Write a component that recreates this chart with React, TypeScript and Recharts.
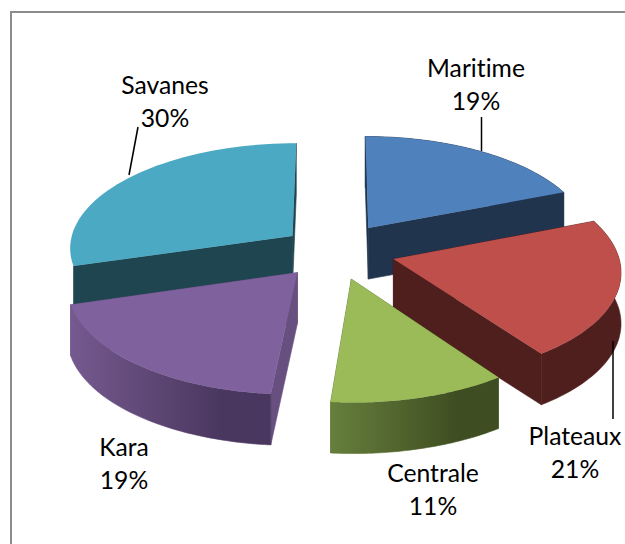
import React from "react";
import { PieChart, Pie } from "recharts";

const categories = ["Savanes", "Maritime", "Plateaux", "Centrale", "Kara"];
// shown rounded on the labels
const shares = [29.6, 19, 21.15, 11.25, 19];

const data = categories.map((name, i) => ({ name, value: shares[i] }));

// look of each slice: top face, cut face, outer wall gradient stops
const LOOK: Record<string, { top: string; cut: string; wall: string[] }> = {
  Savanes: { top: "#4BA9C3", cut: "#1F4550", wall: ["#1F4550", "#1F4550"] },
  Maritime: { top: "#4F81BD", cut: "#20344E", wall: ["#20344E", "#20344E"] },
  Plateaux: { top: "#BE4F4B", cut: "#4F1F1E", wall: ["#4F1F1E", "#4F1F1E"] },
  Centrale: { top: "#9BBB59", cut: "#5C7634", wall: ["#667F3C", "#3F4E22"] },
  Kara: { top: "#7F619D", cut: "#67507F", wall: ["#75598F", "#4A375F"] },
};

// where the text sits: centre x, first baseline, leader line if any
const LABELS: Record<string, { x: number; y: number; line?: number[] }> = {
  Savanes: { x: 165, y: 94, line: [138, 127, 129, 175] },
  Maritime: { x: 476, y: 77, line: [481.5, 117, 481.5, 151] },
  Plateaux: { x: 575, y: 445, line: [613, 341, 613, 419] },
  Centrale: { x: 433, y: 482 },
  Kara: { x: 124, y: 456 },
};

const FONT = "Lato, 'Open Sans', sans-serif";
const TILT = 0.469; // vertical squash of the pie disc
const PERSPECTIVE = 0.1;
const EXPLODE: Record<string, number> = { Savanes: 0.24, Kara: 0.26 };
const EXPLODE_DEFAULT = 0.27;
const DEPTH = 51;
const NO_WALL = ["Savanes"]; // its wall barely shows behind Kara in the picture

const rad = (d: number) => (d * Math.PI) / 180;

const Slice3D = (props: any) => {
  const { cx, cy, outerRadius, startAngle, endAngle, midAngle, name, payload } = props;
  const key = name ?? payload?.name;
  const look = LOOK[key];
  const mid = rad(midAngle ?? (startAngle + endAngle) / 2);
  const explode = EXPLODE[key] ?? EXPLODE_DEFAULT;
  const A = outerRadius;
  const B = outerRadius * TILT;

  // ground point at radius r and recharts angle deg, pushed out by the explode
  const project = (deg: number, r: number, drop = 0): [number, number] => {
    const u = r * Math.cos(rad(deg)) + explode * Math.cos(mid);
    const v = -r * Math.sin(rad(deg)) - explode * Math.sin(mid);
    const s = 1 / (1 - PERSPECTIVE * v);
    return [cx + A * u * s, cy + B * v * s + drop];
  };

  const steps = 48;
  const arc = (drop: number) => {
    const pts: [number, number][] = [];
    for (let i = 0; i <= steps; i++) {
      pts.push(project(startAngle + ((endAngle - startAngle) * i) / steps, 1, drop));
    }
    return pts;
  };
  const toPath = (pts: [number, number][]) =>
    "M" + pts.map((p) => `${p[0].toFixed(1)},${p[1].toFixed(1)}`).join("L") + "Z";

  const topArc = arc(0);
  const lowArc = arc(DEPTH);
  const xs = lowArc.map((p) => p[0]);
  const gradId = `wall-${key}`;

  const cutFace = (deg: number) =>
    toPath([project(deg, 0), project(deg, 1), project(deg, 1, DEPTH), project(deg, 0, DEPTH)]);

  return (
    <g>
      <defs>
        <linearGradient
          id={gradId}
          gradientUnits="userSpaceOnUse"
          x1={Math.min(...xs)}
          x2={Math.max(...xs)}
          y1={0}
          y2={0}
        >
          <stop offset="0%" stopColor={look.wall[0]} />
          <stop offset="75%" stopColor={look.wall[1]} />
        </linearGradient>
      </defs>
      <path d={cutFace(startAngle)} fill={look.cut} stroke={look.cut} strokeWidth={0.6} />
      <path d={cutFace(endAngle)} fill={look.cut} stroke={look.cut} strokeWidth={0.6} />
      {!NO_WALL.includes(key) && (
        <path
          d={toPath([...topArc, ...lowArc.slice().reverse()])}
          fill={`url(#${gradId})`}
          stroke={`url(#${gradId})`}
          strokeWidth={0.6}
        />
      )}
      <path d={toPath([project(0, 0), ...topArc])} fill={look.top} />
    </g>
  );
};

const renderLabel = (props: any) => {
  const key = props.name ?? props.payload?.name;
  const spot = LABELS[key];
  const textStyle = { fontVariantLigatures: "none" };
  return (
    <g key={key}>
      {spot.line && (
        <line
          x1={spot.line[0]}
          y1={spot.line[1]}
          x2={spot.line[2]}
          y2={spot.line[3]}
          stroke="#000"
          strokeWidth={1.5}
        />
      )}
      <text x={spot.x} y={spot.y} textAnchor="middle" fontFamily={FONT} fontSize={24.7} fill="#000" style={textStyle}>
        {key}
      </text>
      <text x={spot.x} y={spot.y + 33} textAnchor="middle" fontFamily={FONT} fontSize={24.7} fill="#000" style={textStyle}>
        {Math.round(props.value)}%
      </text>
    </g>
  );
};

export default function App() {
  return (
    <div style={{ position: "absolute", left: 0, top: 0, width: 625, height: 544, background: "#fff", overflow: "hidden" }}>
      <div
        style={{
          position: "absolute",
          left: 10,
          top: 11,
          width: 640,
          height: 560,
          border: "2px solid #8C8C8C",
        }}
      />
      <div style={{ position: "absolute", left: 0, top: 0 }}>
        <PieChart width={625} height={544} margin={{ top: 0, right: 0, bottom: 0, left: 0 }}>
          <Pie
            data={data}
            dataKey="value"
            nameKey="name"
            cx={335}
            cy={251}
            innerRadius={0}
            outerRadius={224}
            startAngle={-163.44}
            endAngle={-523.44}
            paddingAngle={0}
            stroke="none"
            label={renderLabel}
            labelLine={false}
            shape={Slice3D}
            isAnimationActive={false}
          />
        </PieChart>
      </div>
    </div>
  );
}
